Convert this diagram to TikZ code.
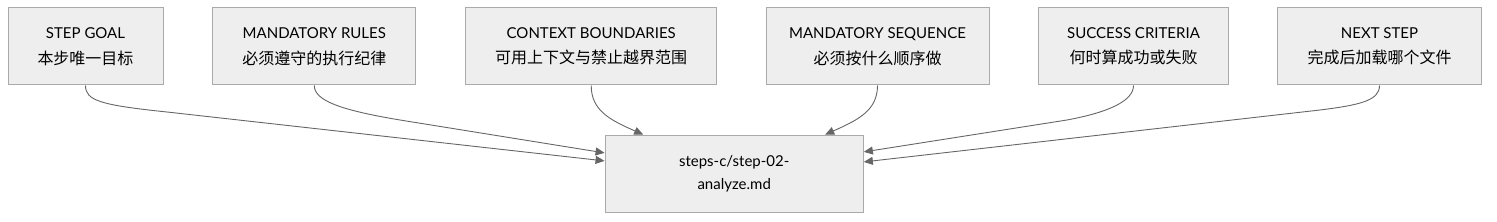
\documentclass[tikz,border=0pt]{standalone}
\usepackage{fontspec}
\setmainfont{Lato}
\newfontfamily\cjk{Noto Sans CJK SC}
\usetikzlibrary{arrows.meta}
\definecolor{boxfill}{HTML}{EEEEEE}
\definecolor{boxdraw}{HTML}{AAAAAA}
\definecolor{edge}{HTML}{666666}
\newcommand{\zh}[1]{{\cjk\fontsize{16}{25}\selectfont #1}}
\begin{document}
\begin{tikzpicture}[x=1pt,y=-1pt,
  box/.style={draw=boxdraw,fill=boxfill,line width=1pt,rectangle,inner sep=0pt,align=center,
    font=\fontsize{15}{25.5}\selectfont},
  link/.style={draw=edge,line width=0.9pt,-{Triangle[length=9pt,width=8pt]}}]
\useasboundingbox (0,0) rectangle (1497,222);
\node[box,minimum width=155pt,minimum height=77pt] (b1) at (85.5,46.5) {STEP GOAL\\\zh{本步唯一目标}};
\node[box,minimum width=203.3pt,minimum height=77pt] (b2) at (314.3,46.5) {MANDATORY RULES\\\zh{必须遵守的执行纪律}};
\node[box,minimum width=251pt,minimum height=77pt] (b3) at (591.2,46.5) {CONTEXT BOUNDARIES\\\zh{可用上下文与禁止越界范围}};
\node[box,minimum width=223pt,minimum height=77pt] (b4) at (877.5,46.5) {MANDATORY SEQUENCE\\\zh{必须按什么顺序做}};
\node[box,minimum width=189.6pt,minimum height=77pt] (b5) at (1133.5,46.5) {SUCCESS CRITERIA\\\zh{何时算成功或失败}};
\node[box,minimum width=203.6pt,minimum height=77pt] (b6) at (1379.5,46.5) {NEXT STEP\\\zh{完成后加载哪个文件}};
\node[box,minimum width=258.3pt,minimum height=77.7pt,font=\fontsize{15}{23}\selectfont] (t) at (734.2,173.9) {steps-c/step-02-\\analyze.md};
\coordinate (e1) at ([yshift=13pt]t.west);
\coordinate (e2) at ([yshift=21pt]t.west);
\coordinate (e3) at ([xshift=-91pt]t.north);
\coordinate (e4) at ([xshift=91pt]t.north);
\coordinate (e5) at ([yshift=22pt]t.east);
\coordinate (e6) at ([yshift=12pt]t.east);
\draw[link] (b1.south) .. controls +(0,15) and (100,105) .. (167,112) -- (e1);
\draw[link] (b2.south) .. controls +(0,15) and (340,110) .. (400,120) -- (e2);
\draw[link] (b3.south) .. controls +(0,25) and (610,120) .. (e3);
\draw[link] (b4.south) .. controls +(0,25) and (858,120) .. (e4);
\draw[link] (b5.south) .. controls +(0,15) and (1110,112) .. (1067,120) -- (e5);
\draw[link] (b6.south) .. controls +(0,15) and (1360,105) .. (1320,110) -- (e6);
\end{tikzpicture}
\end{document}
